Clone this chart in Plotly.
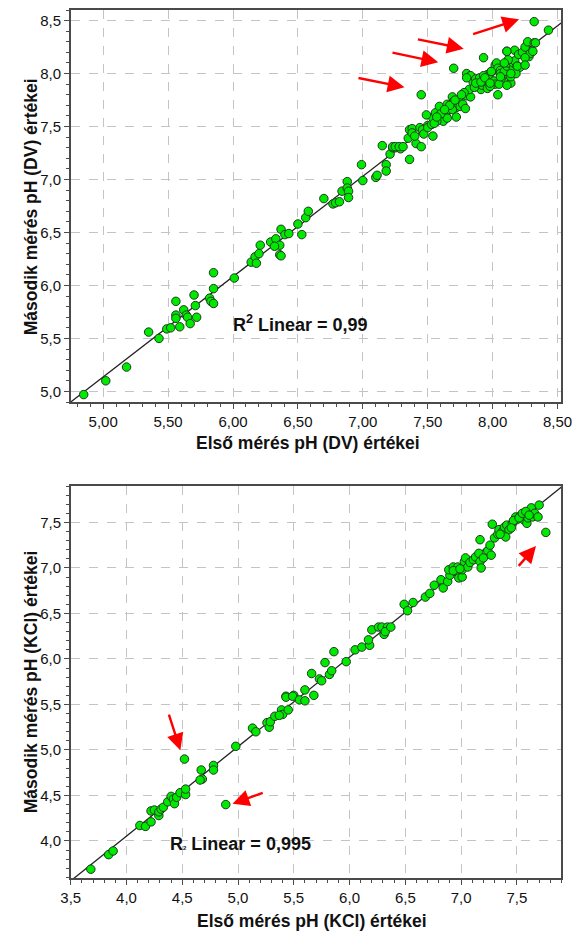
import numpy as np
import plotly.graph_objects as go

# ---------------- data: top chart (DV) ----------------
dv_first = [4.85, 5.02, 5.18, 5.35, 5.43, 5.49, 5.52, 5.56, 5.56, 5.56, 5.59, 5.62, 5.64, 5.65, 5.67,
            5.70, 5.71, 5.72, 5.82, 5.83, 5.85, 5.85, 5.85, 6.01, 6.14, 6.17, 6.18, 6.21, 6.20, 6.29,
            6.33, 6.36, 6.36, 6.37, 6.37, 6.40, 6.43, 6.32, 6.50, 6.53, 6.56, 6.58, 6.70, 6.77, 6.79,
            6.82, 6.84, 6.88, 6.88, 6.89, 6.89, 6.99, 7.00, 7.10, 7.11, 7.15, 7.18, 7.18, 7.21, 7.23,
            7.25, 7.29, 7.23, 7.25, 7.28, 7.31, 7.36, 7.35, 7.36, 7.38, 7.41, 7.45, 7.38, 7.40, 7.44,
            7.46, 7.47, 7.50, 7.50, 7.54, 7.53, 7.54, 7.56, 7.45, 7.49,
            7.59, 7.60, 7.62, 7.64, 7.65, 7.66, 7.65, 7.69, 7.70, 7.72, 7.69, 7.72, 7.74, 7.75, 7.77,
            7.79, 7.80, 7.83, 7.82, 7.80, 7.83, 7.85, 7.87, 7.89, 7.91, 7.92, 7.94, 7.96, 7.97, 7.99,
            8.01, 8.02, 7.96, 7.98, 8.02, 8.03, 8.04, 8.06, 8.06, 8.07, 8.05, 8.09, 8.11, 8.12, 8.12,
            8.14, 8.14, 8.16, 8.16, 8.17, 8.19, 8.21, 8.18, 8.11, 8.17, 8.12, 8.20, 8.23, 8.25, 8.27,
            8.28, 8.29, 8.31, 8.32, 8.33, 8.25,
            7.60, 7.67, 7.63, 7.57, 7.78, 7.86, 7.90, 7.93,
            7.55, 7.57, 7.71, 7.76, 8.09, 8.11,
            7.80, 7.87, 7.91, 7.94, 7.98, 7.99, 8.06, 8.11, 8.14, 8.19, 8.25,
            7.70, 7.93, 8.32, 8.43, 8.04]
dv_second = [4.97, 5.10, 5.23, 5.56, 5.50, 5.59, 5.60, 5.85, 5.72, 5.69, 5.61, 5.77, 5.72, 5.70, 5.64,
             5.91, 5.81, 5.70, 5.88, 5.85, 5.83, 5.97, 6.12, 6.07, 6.22, 6.27, 6.21, 6.38, 6.30, 6.41,
             6.44, 6.38, 6.29, 6.28, 6.53, 6.48, 6.49, 6.37, 6.58, 6.48, 6.64, 6.70, 6.82, 6.77, 6.78,
             6.79, 6.89, 6.98, 6.92, 6.89, 6.83, 7.14, 6.99, 7.02, 7.04, 7.32, 7.14, 7.08, 7.24, 7.30,
             7.30, 7.29, 7.31, 7.31, 7.31, 7.31, 7.19, 7.39, 7.47, 7.48, 7.34, 7.31, 7.44, 7.41, 7.49,
             7.47, 7.43, 7.51, 7.49, 7.41, 7.52, 7.58, 7.63, 7.80, 7.61,
             7.69, 7.58, 7.55, 7.61, 7.58, 7.66, 7.71, 7.78, 7.74, 7.68, 7.66, 7.59, 7.75, 7.69, 7.71,
             7.67, 7.79, 7.78, 7.85, 8.00, 7.98, 7.92, 7.95, 7.91, 7.85, 7.89, 7.92, 7.99, 7.97, 8.02,
             7.93, 7.90, 7.86, 7.88, 8.08, 8.10, 8.05, 8.03, 8.00, 7.95, 7.90, 8.02, 8.07, 8.10, 7.92,
             7.91, 7.97, 8.05, 8.10, 8.12, 8.07, 8.06, 8.00, 8.21, 8.22, 8.13, 8.18, 8.20, 8.25, 8.30,
             8.16, 8.19, 8.21, 8.29, 8.29, 8.15,
             7.62, 7.70, 7.66, 7.55, 7.82, 7.87, 7.96, 7.98,
             7.53, 7.59, 7.75, 7.80, 8.10, 8.21,
             7.96, 7.91, 7.92, 7.96, 7.91, 8.02, 7.97, 7.89, 8.00, 8.07, 8.08,
             8.05, 8.15, 8.49, 8.41, 7.80]

# ---------------- data: bottom chart (KCl) ----------------
kcl_first = [3.68, 3.84, 3.88, 4.12, 4.17, 4.22, 4.22, 4.25, 4.29, 4.29, 4.31, 4.33, 4.37, 4.40, 4.42,
             4.43, 4.45, 4.48, 4.53, 4.53, 4.52, 4.67, 4.68, 4.66, 4.78, 4.78, 4.89, 4.98, 5.13, 5.16,
             5.26, 5.28, 5.29, 5.33, 5.39, 5.40, 5.45, 5.37, 5.43, 5.50, 5.43, 5.49, 5.55, 5.60, 5.60,
             5.68, 5.66, 5.73, 5.75, 5.78, 5.82, 5.84, 5.86, 5.97, 6.05, 6.11, 6.18, 6.17, 6.20, 6.26,
             6.29, 6.34, 6.31, 6.32, 6.37,
             6.49, 6.57, 6.52, 6.68, 6.72, 6.76, 6.82, 6.84, 6.88, 6.90, 6.89, 6.93, 6.95, 6.97, 6.98,
             7.01, 7.01, 7.03, 7.04, 7.06, 7.08, 7.11, 7.13, 7.16, 7.17, 7.18, 7.20, 7.24, 7.26, 7.27,
             7.17, 7.28, 7.30, 7.33, 7.34, 7.37, 7.39, 7.41, 7.43, 7.40, 7.46, 7.49, 7.50, 7.53, 7.56,
             7.57, 7.59, 7.60, 7.62, 7.63, 7.64, 7.66, 7.69, 7.70, 7.76,
             6.93, 6.99, 7.47, 7.52, 7.55, 7.58, 7.61, 7.45, 7.35]
kcl_second = [3.69, 3.85, 3.89, 4.17, 4.16, 4.21, 4.33, 4.34, 4.28, 4.32, 4.35, 4.37, 4.43, 4.49, 4.46,
              4.41, 4.48, 4.53, 4.51, 4.57, 4.90, 4.78, 4.68, 4.67, 4.83, 4.78, 4.40, 5.04, 5.24, 5.20,
              5.30, 5.25, 5.31, 5.37, 5.44, 5.39, 5.44, 5.38, 5.59, 5.60, 5.58, 5.59, 5.55, 5.54, 5.66,
              5.60, 5.84, 5.78, 5.76, 5.96, 5.83, 5.87, 6.08, 5.97, 6.10, 6.13, 6.15, 6.21, 6.32, 6.35,
              6.35, 6.35, 6.27, 6.30, 6.35,
              6.60, 6.62, 6.53, 6.68, 6.72, 6.81, 6.87, 6.78, 6.85, 6.92, 6.98, 7.01, 6.96, 7.01, 6.89,
              6.90, 6.98, 7.07, 7.11, 7.01, 7.06, 7.09, 7.12, 7.16, 7.07, 7.00, 7.11, 7.19, 7.25, 7.14,
              7.31, 7.48, 7.33, 7.37, 7.42, 7.40, 7.45, 7.47, 7.42, 7.34, 7.49, 7.56, 7.53, 7.57, 7.53,
              7.58, 7.49, 7.55, 7.62, 7.66, 7.56, 7.60, 7.56, 7.69, 7.39,
              6.97, 6.99, 7.52, 7.55, 7.60, 7.62, 7.58, 7.44, 7.37]

# arrows (tail -> tip) in data units
dv_arrow_tail_x = [6.955, 7.217, 7.413, 7.838]
dv_arrow_tail_y = [7.961, 8.201, 8.326, 8.367]
dv_arrow_tip_x = [7.321, 7.581, 7.777, 8.204]
dv_arrow_tip_y = [7.871, 8.107, 8.235, 8.512]

kcl_arrow_tail_x = [7.505, 4.376, 5.235]
kcl_arrow_tail_y = [7.006, 5.406, 4.534]
kcl_arrow_tip_x = [7.672, 4.483, 4.951]
kcl_arrow_tip_y = [7.240, 4.996, 4.409]

dv_xrange = [4.75, 8.53]
dv_yrange = [4.90, 8.60]
kcl_xrange = [3.5, 7.9]
kcl_yrange = [3.59, 7.90]

FONT = "Liberation Sans, Arial, sans-serif"
GREEN = "#00ea00"
EDGE = "#1e3a1e"

fig = go.Figure()


def add_panel(xs, ys, xr, xa, ya):
    slope, icpt = np.polyfit(xs, ys, 1)
    lx = np.array(xr)
    fig.add_trace(go.Scatter(x=lx, y=slope * lx + icpt, mode="lines",
                             line=dict(color="#222222", width=1.3),
                             xaxis=xa, yaxis=ya, showlegend=False, hoverinfo="skip"))
    fig.add_trace(go.Scatter(x=xs, y=ys, mode="markers",
                             marker=dict(size=8.5, color=GREEN, line=dict(color=EDGE, width=1)),
                             xaxis=xa, yaxis=ya, showlegend=False))


add_panel(dv_first, dv_second, dv_xrange, "x", "y")
add_panel(kcl_first, kcl_second, kcl_xrange, "x2", "y2")

W, H = 584, 932
xdom = [63 / W, 572 / W]
top_dom = [1 - 402 / H, 1 - 10 / H]
bot_dom = [1 - 878.3 / H, 1 - 486 / H]


def axis_common(rng, dom, fmt, dtick, anchor):
    return dict(range=rng, domain=dom, tickformat=fmt, dtick=dtick, tick0=0,
                showline=True, linecolor="#4a4a4a", linewidth=1.5, mirror=True,
                ticks="outside", ticklen=5, tickwidth=1, tickcolor="#4a4a4a",
                showgrid=True, gridcolor="#c4c4c4", griddash="dash", gridwidth=1,
                zeroline=False, anchor=anchor,
                tickfont=dict(family=FONT, size=15, color="#111111"),
                minor=dict(dtick=0.1, ticks="outside", ticklen=3, tickcolor="#4a4a4a",
                           showgrid=False))


fig.update_layout(
    width=W, height=H, margin=dict(l=0, r=0, t=0, b=0),
    paper_bgcolor="white", plot_bgcolor="white",
    separators=", ",
    xaxis=axis_common(dv_xrange, xdom, ".2f", 0.5, "y"),
    yaxis=axis_common(dv_yrange, top_dom, ".1f", 0.5, "x"),
    xaxis2=axis_common(kcl_xrange, xdom, ".1f", 0.5, "y2"),
    yaxis2=axis_common(kcl_yrange, bot_dom, ".1f", 0.5, "x2"),
)

ann = []
title_font = dict(family=FONT, size=17.5, color="#111111")


def label(text, px, py, font, angle=0):
    return dict(text=text, xref="paper", yref="paper", x=px / W, y=1 - py / H,
                xanchor="center", yanchor="middle", showarrow=False,
                textangle=angle, font=font)


# axis titles
ann.append(label("<b>Első mérés pH (DV) értékei</b>", 309, 443, title_font))
ann.append(label("<b>Második mérés pH (DV) értékei</b>", 22, 207, title_font, -90))
ann.append(label("<b>Első mérés pH (KCl) értékei</b>", 313, 921, title_font))
ann.append(label("<b>Második mérés pH (KCl) értékei</b>", 22, 682, title_font, -90))
# R^2 labels
r2_font = dict(family=FONT, size=18, color="#111111")
ann.append(label("<b>R<sup>2</sup> Linear = 0,99</b>", 301, 324, r2_font))
ann.append(label("<b>R<span style='font-size:6px'>2</span> Linear = 0,995</b>", 239, 844, r2_font))

for tx, ty, hx, hy in zip(dv_arrow_tail_x, dv_arrow_tail_y, dv_arrow_tip_x, dv_arrow_tip_y):
    ann.append(dict(x=hx, y=hy, ax=tx, ay=ty, xref="x", yref="y", axref="x", ayref="y",
                    showarrow=True, arrowhead=2, arrowsize=1.4, arrowwidth=2.4,
                    arrowcolor="#ff0000", text=""))
for tx, ty, hx, hy in zip(kcl_arrow_tail_x, kcl_arrow_tail_y, kcl_arrow_tip_x, kcl_arrow_tip_y):
    ann.append(dict(x=hx, y=hy, ax=tx, ay=ty, xref="x2", yref="y2", axref="x2", ayref="y2",
                    showarrow=True, arrowhead=2, arrowsize=1.4, arrowwidth=2.4,
                    arrowcolor="#ff0000", text=""))

fig.update_layout(annotations=ann)
fig.write_html("out.html")
